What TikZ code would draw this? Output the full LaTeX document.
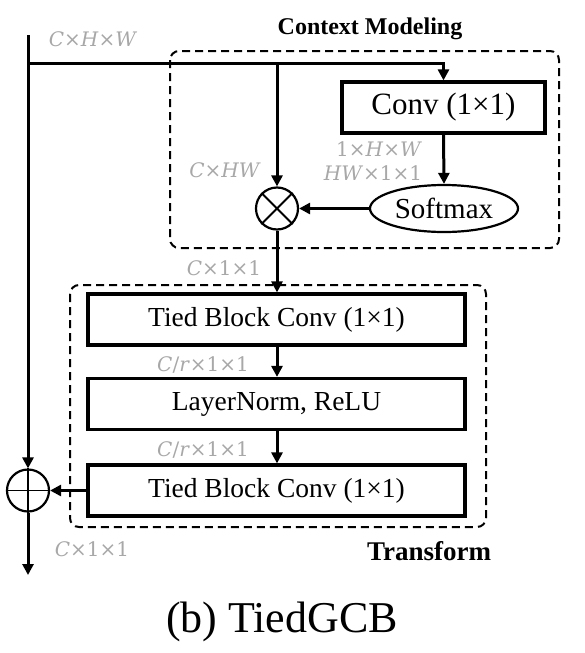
\documentclass[tikz,border=0pt]{standalone}
\usepackage{fontspec}
\setmainfont{Liberation Serif}
\newfontfamily\dimf{DejaVu Serif}
\usetikzlibrary{arrows.meta,shapes.geometric}
\definecolor{dimlbl}{RGB}{168,168,168}
\newcommand{\vi}[1]{\textit{#1}}
\tikzset{
  flow/.style={line width=3pt,-{Triangle[length=11pt,width=11pt]}},
  blk/.style={draw,line width=3.2pt,minimum width=377pt,minimum height=51pt,inner sep=0pt,
    font=\fontsize{27.5}{30}\selectfont},
  dbox/.style={draw,dash pattern=on 8pt off 5pt,line width=2pt,rounded corners=9pt},
  opc/.style={circle,draw,line width=2.2pt,minimum size=42pt,inner sep=0pt},
  dim/.style={text=dimlbl,inner sep=0pt,font=\dimf\fontsize{20}{22}\selectfont},
  ttl/.style={inner sep=0pt,font=\bfseries\fontsize{24}{26}\selectfont},
}
\begin{document}
\begin{tikzpicture}[x=1pt,y=-1pt]
\useasboundingbox (0,0) rectangle (584,653);
% dashed groups
\draw[dbox] (170,51) rectangle (559,248);
\draw[dbox] (70,285) rectangle (486,527);
\node[ttl] (tctx) at (370,29) {Context Modeling};
\node[ttl,font=\bfseries\fontsize{27}{29}\selectfont] (ttr) at (429,551) {Transform};
% nodes
\node[draw,line width=3.2pt,minimum width=203pt,minimum height=51pt,inner sep=0pt,
  font=\fontsize{31}{33}\selectfont] (conv) at (443.5,107.5) {Conv (1×1)};
\node[ellipse,draw,line width=2.2pt,minimum width=148pt,minimum height=47pt,inner sep=0pt,
  font=\fontsize{29}{31}\selectfont] (soft) at (444,208.5) {Softmax};
\node[opc] (ot) at (277,208.5) {};
\draw[line width=1.8pt] (ot.north east) -- (ot.south west) (ot.north west) -- (ot.south east);
\node[blk] (t1) at (276.5,319.5) {Tied Block Conv (1×1)};
\node[blk] (ln) at (276.5,404) {LayerNorm, ReLU};
\node[blk] (t3) at (276.5,490.5) {Tied Block Conv (1×1)};
\node[opc] (pl) at (28,490.5) {};
\draw[line width=1.8pt] (pl.north) -- (pl.south) (pl.west) -- (pl.east);
% coordinates
\coordinate (top) at (28,35);
\coordinate (j1) at (28,63);
\coordinate (j2) at (277,63);
\coordinate (out) at (28,575);
% connectors
\draw[flow] (top) -- (pl.north);
\draw[flow] (j1) -| (conv.north);
\draw[flow] (j2) -- (ot.north);
\draw[flow] (conv.south) -- (soft.north);
\draw[flow] (soft.west) -- (ot.east);
\draw[flow] (ot.south) -- (ot.south |- t1.north);
\draw[flow] (t1.south -| ot.south) -- (ot.south |- ln.north);
\draw[flow] (ln.south -| ot.south) -- (ot.south |- t3.north);
\draw[flow] (t3.west) -- (pl.east);
\draw[flow] (pl.south) -- (out);
% dimension labels
\node[dim] (d1) at (93,39) {\vi{C}×\vi{H}×\vi{W}};
\node[dim] (d2) at (225,170) {\vi{C}×\vi{HW}};
\node[dim] (d3) at (379,149) {1×\vi{H}×\vi{W}};
\node[dim] (d4) at (373,173) {\vi{HW}×1×1};
\node[dim] (d5) at (224,268) {\vi{C}×1×1};
\node[dim] (d6) at (203,365) {\vi{C}/\vi{r}×1×1};
\node[dim] (d7) at (203,450) {\vi{C}/\vi{r}×1×1};
\node[dim] (d8) at (92,549) {\vi{C}×1×1};
% caption
\node[inner sep=0pt,font=\fontsize{44}{47}\selectfont] (cap) at (282,622) {(b) TiedGCB};
\end{tikzpicture}
\end{document}
